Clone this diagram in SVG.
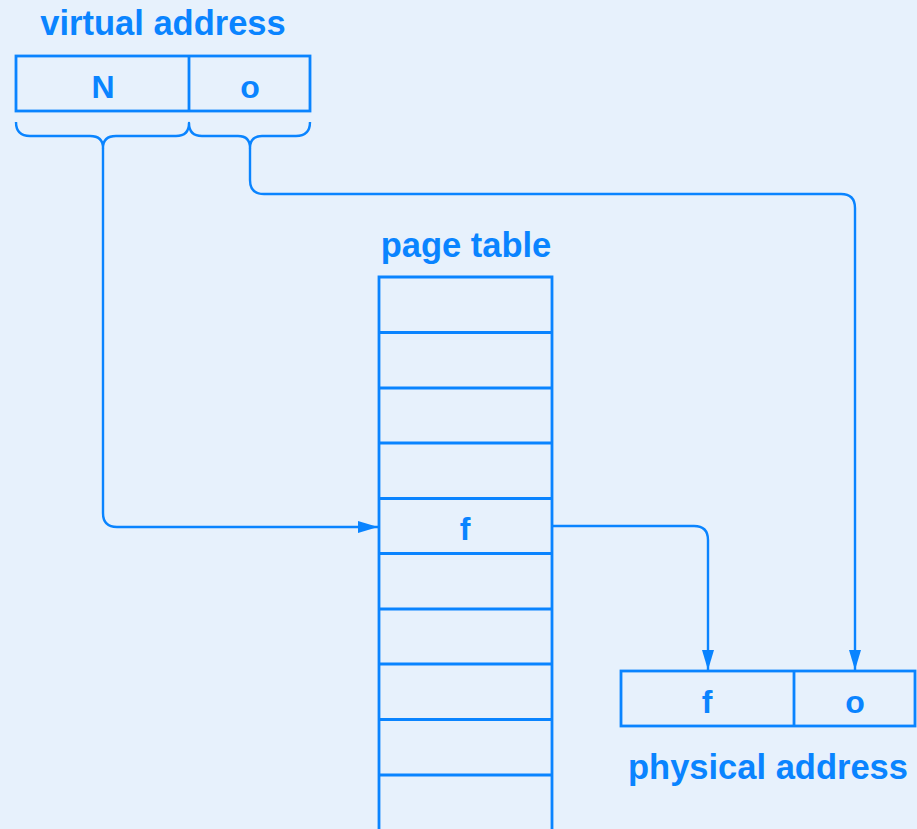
<svg xmlns="http://www.w3.org/2000/svg" width="917" height="829" viewBox="0 0 917 829">
<defs>
<style>
.ln{fill:none;stroke:#0A84FF;stroke-width:2.4;stroke-linejoin:round}
.bx{fill:none;stroke:#0A84FF;stroke-width:2.8}
.t{font-family:"Liberation Sans",Arial,sans-serif;font-weight:bold;fill:#0A84FF;text-anchor:middle}
.lab{font-size:34.5px}
.cell{font-size:32px}
</style>
<marker id="ah" viewBox="0 0 20 12" refX="20" refY="6" markerWidth="20" markerHeight="12" markerUnits="userSpaceOnUse" orient="auto">
<path d="M0,0 L20,6 L0,12 Z" fill="#0A84FF"/>
</marker>
</defs>
<rect width="917" height="829" fill="#E7F1FC"/>
<g id="virtual-address">
<text class="t lab" x="163" y="35">virtual address</text>
<rect class="bx" x="16" y="56" width="294" height="55"/>
<line class="bx" x1="189" y1="56" x2="189" y2="111"/>
<text class="t cell" x="103" y="98">N</text>
<text class="t cell" x="250" y="98">o</text>
</g>
<g id="brace">
<path class="ln" d="M16,122 Q16,136 30,136 L90,136 Q103,136 103,148 Q103,136 116,136 L176,136 Q189,136 189,123 Q189,136 202,136 L238,136 Q250,136 250,148 Q250,136 262,136 L296,136 Q310,136 310,122"/>
</g>
<g id="page-table">
<text class="t lab" x="466" y="257">page table</text>
<path class="bx" d="M379,829 L379,277 L552,277 L552,829"/>
<path class="bx" d="M379,332.5H552M379,388H552M379,443H552M379,498.5H552M379,553.5H552M379,609H552M379,664H552M379,719.5H552M379,775H552"/>
<text class="t cell" x="465" y="540">f</text>
</g>
<g id="physical-address">
<rect class="bx" x="621" y="671" width="294" height="55"/>
<line class="bx" x1="794" y1="671" x2="794" y2="726"/>
<text class="t cell" x="707" y="713">f</text>
<text class="t cell" x="855" y="713">o</text>
<text class="t lab" x="768" y="779">physical address</text>
</g>
<g id="connectors">
<path class="ln" d="M103,148 L103,513 Q103,527 117,527 L378,527" marker-end="url(#ah)"/>
<path class="ln" d="M250,148 L250,180 Q250,194 264,194 L841,194 Q855,194 855,208 L855,670" marker-end="url(#ah)"/>
<path class="ln" d="M553,526 L694,526 Q708,526 708,540 L708,670" marker-end="url(#ah)"/>
</g>
</svg>
